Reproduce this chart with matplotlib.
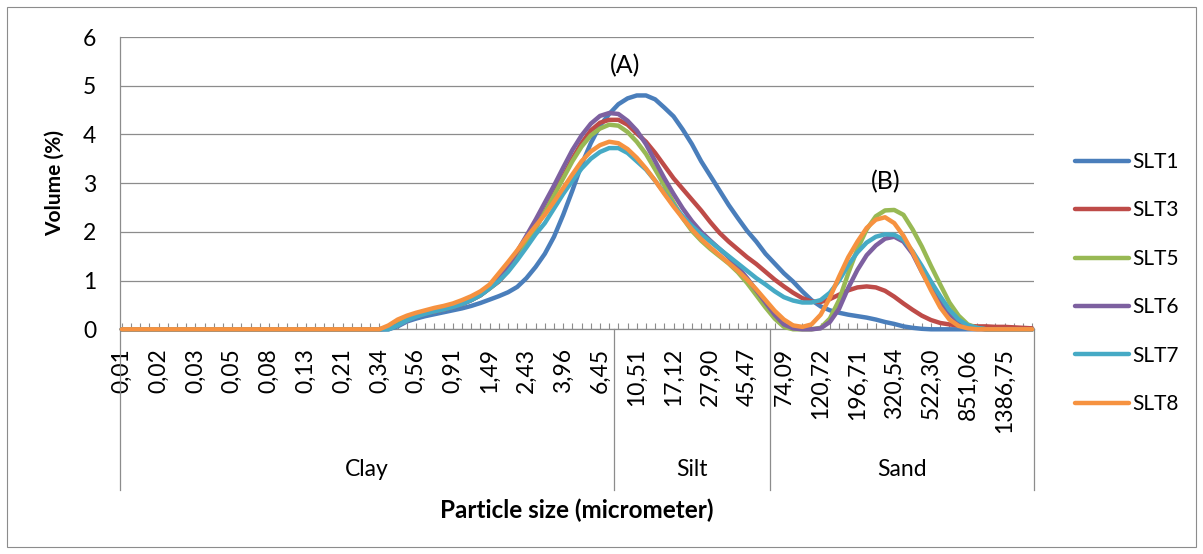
import matplotlib
matplotlib.use("Agg")
import matplotlib.pyplot as plt
import matplotlib.transforms as mtransforms
from matplotlib.patches import Rectangle
import numpy as np

plt.rcParams["font.family"] = ["Lato", "DejaVu Sans"]

# ─────────────────────────────────────────────────────────────
# Data  (100 size classes, label shown on every 4th class)
# ─────────────────────────────────────────────────────────────

size_labels = ["0,01", "0,02", "0,03", "0,05", "0,08", "0,13", "0,21", "0,34",
               "0,56", "0,91", "1,49", "2,43", "3,96", "6,45", "10,51", "17,12",
               "27,90", "45,47", "74,09", "120,72", "196,71", "320,54", "522,30",
               "851,06", "1386,75"]
label_step = 4
n_classes = 100

groups = ["Clay", "Silt", "Sand"]
group_sizes = [54, 17, 29]

series_names = ["SLT1", "SLT3", "SLT5", "SLT6", "SLT7", "SLT8"]

slt1 = [0, 0, 0, 0, 0, 0, 0, 0, 0, 0,
        0, 0, 0, 0, 0, 0, 0, 0, 0, 0,
        0, 0, 0, 0, 0, 0, 0, 0, 0, 0.00,
        0.06, 0.16, 0.22, 0.27, 0.31, 0.35, 0.39, 0.43, 0.48, 0.54,
        0.61, 0.68, 0.76, 0.87, 1.05, 1.28, 1.55, 1.90, 2.35, 2.85,
        3.38, 3.82, 4.18, 4.42, 4.62, 4.74, 4.80, 4.80, 4.72, 4.55,
        4.37, 4.10, 3.80, 3.45, 3.15, 2.85, 2.55, 2.28, 2.02, 1.80,
        1.55, 1.35, 1.15, 0.98, 0.78, 0.60, 0.47, 0.39, 0.34, 0.30,
        0.27, 0.24, 0.20, 0.15, 0.11, 0.06, 0.03, 0.01, 0, 0,
        0, 0, 0, 0, 0, 0, 0, 0, 0, 0]

slt3 = [0, 0, 0, 0, 0, 0, 0, 0, 0, 0,
        0, 0, 0, 0, 0, 0, 0, 0, 0, 0,
        0, 0, 0, 0, 0, 0, 0, 0, 0, 0.03,
        0.12, 0.21, 0.28, 0.33, 0.37, 0.41, 0.46, 0.52, 0.60, 0.70,
        0.84, 0.98, 1.20, 1.46, 1.76, 2.08, 2.42, 2.78, 3.14, 3.50,
        3.82, 4.08, 4.24, 4.30, 4.30, 4.20, 4.02, 3.85, 3.62, 3.36,
        3.10, 2.88, 2.66, 2.44, 2.20, 1.98, 1.80, 1.64, 1.48, 1.34,
        1.18, 1.02, 0.88, 0.75, 0.64, 0.57, 0.56, 0.62, 0.71, 0.80,
        0.86, 0.88, 0.86, 0.79, 0.67, 0.53, 0.40, 0.28, 0.19, 0.13,
        0.10, 0.08, 0.07, 0.06, 0.06, 0.05, 0.05, 0.04, 0.03, 0.02]

slt5 = [0, 0, 0, 0, 0, 0, 0, 0, 0, 0,
        0, 0, 0, 0, 0, 0, 0, 0, 0, 0,
        0, 0, 0, 0, 0, 0, 0, 0, 0, 0.03,
        0.12, 0.21, 0.28, 0.33, 0.37, 0.41, 0.46, 0.52, 0.60, 0.70,
        0.84, 1.00, 1.22, 1.48, 1.78, 2.08, 2.40, 2.75, 3.10, 3.45,
        3.75, 3.98, 4.12, 4.20, 4.18, 4.05, 3.85, 3.60, 3.28, 2.95,
        2.60, 2.28, 2.02, 1.82, 1.65, 1.50, 1.35, 1.17, 0.95, 0.70,
        0.45, 0.22, 0.05, 0, 0, 0, 0.03, 0.22, 0.60, 1.15,
        1.65, 2.05, 2.32, 2.44, 2.45, 2.35, 2.05, 1.70, 1.30, 0.92,
        0.55, 0.28, 0.10, 0.03, 0, 0, 0, 0, 0, 0]

slt6 = [0, 0, 0, 0, 0, 0, 0, 0, 0, 0,
        0, 0, 0, 0, 0, 0, 0, 0, 0, 0,
        0, 0, 0, 0, 0, 0, 0, 0, 0, 0.01,
        0.08, 0.17, 0.26, 0.32, 0.37, 0.41, 0.46, 0.52, 0.60, 0.70,
        0.85, 1.05, 1.30, 1.60, 1.92, 2.25, 2.60, 2.95, 3.32, 3.68,
        3.98, 4.22, 4.38, 4.44, 4.42, 4.28, 4.08, 3.80, 3.45, 3.10,
        2.78, 2.48, 2.22, 2.00, 1.82, 1.65, 1.48, 1.28, 1.05, 0.80,
        0.55, 0.30, 0.10, 0.02, 0, 0, 0.02, 0.15, 0.42, 0.85,
        1.22, 1.52, 1.72, 1.86, 1.90, 1.80, 1.55, 1.18, 0.85, 0.58,
        0.32, 0.15, 0.06, 0.02, 0, 0, 0, 0, 0, 0]

slt7 = [0, 0, 0, 0, 0, 0, 0, 0, 0, 0,
        0, 0, 0, 0, 0, 0, 0, 0, 0, 0,
        0, 0, 0, 0, 0, 0, 0, 0, 0, 0,
        0.08, 0.18, 0.26, 0.32, 0.37, 0.41, 0.46, 0.52, 0.60, 0.70,
        0.84, 0.99, 1.18, 1.42, 1.68, 1.95, 2.18, 2.48, 2.78, 3.05,
        3.30, 3.50, 3.64, 3.72, 3.72, 3.62, 3.45, 3.28, 3.05, 2.80,
        2.55, 2.32, 2.12, 1.95, 1.80, 1.65, 1.50, 1.35, 1.20, 1.05,
        0.92, 0.78, 0.66, 0.59, 0.55, 0.55, 0.60, 0.75, 1.00, 1.32,
        1.58, 1.78, 1.90, 1.95, 1.94, 1.84, 1.60, 1.30, 0.98, 0.68,
        0.40, 0.20, 0.08, 0.03, 0, 0, 0, 0, 0, 0]

slt8 = [0, 0, 0, 0, 0, 0, 0, 0, 0, 0,
        0, 0, 0, 0, 0, 0, 0, 0, 0, 0,
        0, 0, 0, 0, 0, 0, 0, 0, 0, 0.08,
        0.20, 0.28, 0.34, 0.39, 0.44, 0.48, 0.53, 0.60, 0.68, 0.78,
        0.92, 1.15, 1.38, 1.62, 1.88, 2.12, 2.35, 2.62, 2.90, 3.18,
        3.45, 3.65, 3.78, 3.85, 3.82, 3.70, 3.52, 3.30, 3.05, 2.78,
        2.52, 2.28, 2.05, 1.85, 1.68, 1.52, 1.36, 1.20, 1.02, 0.82,
        0.60, 0.38, 0.20, 0.08, 0.05, 0.10, 0.30, 0.65, 1.08, 1.48,
        1.80, 2.08, 2.25, 2.30, 2.18, 1.92, 1.58, 1.18, 0.80, 0.45,
        0.20, 0.07, 0.02, 0, 0, 0, 0, 0, 0, 0]

series_values = [slt1, slt3, slt5, slt6, slt7, slt8]

# ─────────────────────────────────────────────────────────────
# Style
# ─────────────────────────────────────────────────────────────

COLORS = ["#4A7EBB", "#BE4B48", "#98B954", "#7D60A0", "#46AAC5", "#F69240"]
GRAY   = "#8C8C8C"
FS     = 15
FS_CAT = 16.5
W, H   = 1203, 554

fig = plt.figure(figsize=(W / 100, H / 100), dpi=100)
# outer chart border
fig.patches.append(Rectangle((7 / W, 7 / H), 1 - 14 / W, 1 - 14 / H,
                             transform=fig.transFigure, fill=False,
                             edgecolor=GRAY, linewidth=0.8))

ax = fig.add_axes([120 / W, 1 - 329.3 / H, 914 / W, 292.3 / H])

x = np.arange(n_classes)
lines = []
for name, vals, col in zip(series_names, series_values, COLORS):
    ln, = ax.plot(x, vals, color=col, lw=3.2, label=name,
                  solid_capstyle="round", solid_joinstyle="round",
                  zorder=5, clip_on=False)
    lines.append(ln)

ax.set_xlim(-0.2, n_classes - 0.8)
ax.set_ylim(0, 6)

# ── value axis ───────────────────────────────────────────────
ax.set_yticks(range(0, 7))
ax.yaxis.grid(True, color=GRAY, lw=0.9)
ax.set_axisbelow(True)
ax.tick_params(axis="y", length=0, pad=17, labelsize=FS_CAT)
ax.set_ylabel("Volume (%)", fontsize=FS, fontweight="bold", labelpad=13)

# ── category axis ────────────────────────────────────────────
ax.set_xticks(range(0, n_classes, label_step)[:len(size_labels)])
ax.set_xticklabels(size_labels, rotation=90, fontsize=FS_CAT)
ax.set_xticks(range(n_classes), minor=True)
ax.tick_params(axis="x", which="both", direction="in", length=4,
               width=0.8, color=GRAY, pad=13.5)

for side in ["top", "right"]:
    ax.spines[side].set_visible(False)
for side in ["left", "bottom"]:
    ax.spines[side].set_color(GRAY)
    ax.spines[side].set_linewidth(0.9)

# group dividers and names under the tick labels
trans = mtransforms.blended_transform_factory(ax.transData, ax.transAxes)
div_bottom = -0.55
bounds = [-0.2]
start = 0
for g, size in zip(groups, group_sizes):
    end = start + size
    right = end - 0.5 if end < n_classes else n_classes - 0.8
    bounds.append(right)
    ax.text((bounds[-2] + right) / 2, -0.48, g, transform=trans,
            ha="center", va="center", fontsize=FS_CAT)
    start = end
for b in bounds:
    ax.plot([b, b], [0, div_bottom], transform=trans, color=GRAY,
            lw=0.9, clip_on=False, zorder=1)

fig.text(577 / W, 1 - 510 / H, "Particle size (micrometer)", ha="center",
         va="center", fontsize=17.5, fontweight="bold")

# peak annotations
ax.text(54.7, 5.41, "(A)", ha="center", va="center", fontsize=18)
ax.text(83.1, 3.03, "(B)", ha="center", va="center", fontsize=18)

# ── legend ───────────────────────────────────────────────────
ax.legend(handles=lines, loc="center left",
          bbox_to_anchor=(1075 / W, 1 - 283 / H), bbox_transform=fig.transFigure,
          frameon=False, fontsize=FS, handlelength=2.6, handletextpad=0.15,
          labelspacing=1.36, borderpad=0, borderaxespad=0)

fig.savefig("out.png", dpi=100)
